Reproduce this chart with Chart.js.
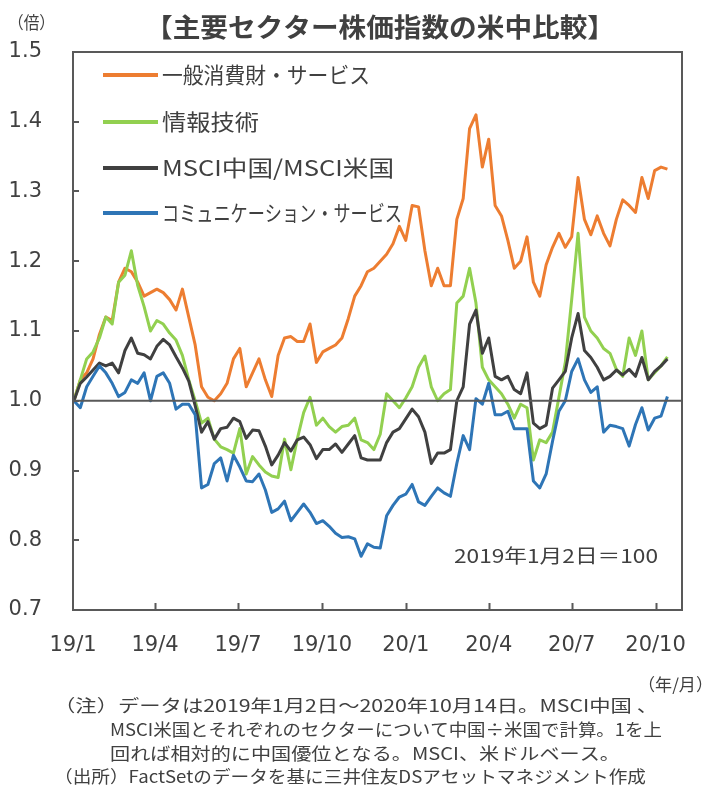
<!DOCTYPE html>
<html lang="ja">
<head>
<meta charset="utf-8">
<title>主要セクター株価指数の米中比較</title>
<script src="https://cdn.jsdelivr.net/npm/chart.js@4.4.1/dist/chart.umd.min.js"></script>
<style>
  html, body { margin: 0; padding: 0; background: #fff; }
  #wrap { width: 713px; height: 788px; }
</style>
</head>
<body>
<div id="wrap"><canvas id="chart" width="713" height="788"></canvas></div>
<script>
// 週次サンプル (2019/1/2 から 7 日おき、最後が 2020/10/14)
const startDate = '2019-01-02';

const consumer = [1.000, 1.030, 1.040, 1.060, 1.095, 1.120, 1.115, 1.170, 1.190, 1.185,
  1.170, 1.150, 1.155, 1.160, 1.155, 1.145, 1.130, 1.160, 1.120, 1.080,
  1.020, 1.005, 1.000, 1.010, 1.025, 1.060, 1.075, 1.020, 1.040, 1.060,
  1.030, 1.006, 1.065, 1.090, 1.092, 1.085, 1.085, 1.110, 1.055, 1.070,
  1.075, 1.080, 1.090, 1.118, 1.150, 1.165, 1.185, 1.190, 1.200, 1.210,
  1.225, 1.250, 1.230, 1.280, 1.278, 1.215, 1.165, 1.190, 1.165, 1.165,
  1.260, 1.290, 1.390, 1.410, 1.335, 1.375, 1.280, 1.265, 1.230, 1.190,
  1.200, 1.235, 1.170, 1.150, 1.195, 1.220, 1.240, 1.220, 1.235, 1.320,
  1.260, 1.238, 1.265, 1.240, 1.222, 1.260, 1.288, 1.280, 1.270, 1.320,
  1.290, 1.330, 1.335, 1.332];

const infoTech = [1.000, 1.030, 1.060, 1.070, 1.090, 1.120, 1.110, 1.170, 1.180, 1.215,
  1.165, 1.135, 1.100, 1.115, 1.110, 1.097, 1.087, 1.065, 1.030, 1.000,
  0.968, 0.975, 0.945, 0.934, 0.930, 0.925, 0.960, 0.895, 0.920, 0.908,
  0.898, 0.892, 0.890, 0.945, 0.901, 0.945, 0.983, 1.005, 0.965, 0.975,
  0.963, 0.955, 0.963, 0.965, 0.975, 0.944, 0.940, 0.930, 0.952, 1.010,
  1.000, 0.990, 1.004, 1.020, 1.048, 1.064, 1.020, 1.000, 1.010, 1.016,
  1.140, 1.150, 1.190, 1.140, 1.048, 1.030, 1.020, 1.010, 0.995, 0.975,
  0.995, 0.990, 0.915, 0.944, 0.940, 0.955, 1.005, 1.055, 1.145, 1.240,
  1.120, 1.100, 1.090, 1.075, 1.068, 1.045, 1.035, 1.090, 1.065, 1.100,
  1.030, 1.040, 1.050, 1.063];

const msciRatio = [1.000, 1.025, 1.034, 1.044, 1.054, 1.050, 1.054, 1.040, 1.072, 1.090,
  1.068, 1.066, 1.060, 1.078, 1.088, 1.080, 1.063, 1.047, 1.028, 0.993,
  0.955, 0.970, 0.945, 0.960, 0.962, 0.975, 0.970, 0.946, 0.958, 0.957,
  0.935, 0.908, 0.922, 0.940, 0.928, 0.944, 0.948, 0.937, 0.917, 0.930,
  0.930, 0.938, 0.926, 0.938, 0.950, 0.918, 0.915, 0.915, 0.915, 0.940,
  0.955, 0.960, 0.974, 0.988, 0.977, 0.955, 0.910, 0.925, 0.925, 0.930,
  1.000, 1.020, 1.110, 1.130, 1.068, 1.090, 1.035, 1.030, 1.035, 1.016,
  1.010, 1.040, 0.968, 0.960, 0.965, 1.018, 1.030, 1.042, 1.090, 1.125,
  1.072, 1.062, 1.048, 1.030, 1.035, 1.044, 1.037, 1.045, 1.035, 1.062,
  1.030, 1.042, 1.050, 1.060];

const commServices = [1.000, 0.990, 1.020, 1.035, 1.050, 1.040, 1.025, 1.006, 1.012, 1.030,
  1.025, 1.040, 1.000, 1.035, 1.040, 1.025, 0.988, 0.995, 0.995, 0.980,
  0.875, 0.880, 0.910, 0.918, 0.885, 0.922, 0.905, 0.885, 0.884, 0.895,
  0.872, 0.840, 0.845, 0.856, 0.828, 0.840, 0.852, 0.840, 0.824, 0.828,
  0.820, 0.810, 0.804, 0.805, 0.802, 0.777, 0.795, 0.790, 0.789, 0.835,
  0.850, 0.862, 0.866, 0.880, 0.855, 0.850, 0.863, 0.875, 0.868, 0.863,
  0.910, 0.950, 0.930, 1.003, 0.995, 1.025, 0.980, 0.980, 0.985, 0.960,
  0.960, 0.960, 0.885, 0.875, 0.895, 0.942, 0.985, 1.000, 1.042, 1.060,
  1.030, 1.012, 1.020, 0.955, 0.965, 0.963, 0.960, 0.935, 0.966, 0.990,
  0.958, 0.975, 0.978, 1.006];

const seriesNames = ['一般消費財・サービス', '情報技術', 'MSCI中国/MSCI米国', 'コミュニケーション・サービス'];
const tickLabels = ['19/1', '19/4', '19/7', '19/10', '20/1', '20/4', '20/7', '20/10'];
const baseline = 1.0;

const COLORS = ['#ED7D31', '#92D050', '#404040', '#2E75B6'];
const TEXT = '#404040';
const AXIS = '#595959';
const JP = '"Noto Sans CJK JP", "Noto Sans", sans-serif';
const NUM = '"DejaVu Sans", Verdana, sans-serif';

// x 軸は 2019/1/1 からの日数
const DAY = 86400000;
const origin = Date.UTC(2019, 0, 1);
const dayOf = (y, m, d) => Math.round((Date.UTC(y, m - 1, d) - origin) / DAY);
const [sy, sm, sd] = startDate.split('-').map(Number);
const firstDay = dayOf(sy, sm, sd);
const xDays = consumer.map((_, i) => firstDay + 7 * i);
const tickDays = tickLabels.map(t => {
    const [yy, mm] = t.split('/').map(Number);
    return dayOf(2000 + yy, mm, 1);
});

const toPoints = arr => arr.map((v, i) => ({ x: xDays[i], y: v }));

// 横幅を合わせて文字を描く
function fitText(ctx, text, left, y, width, font) {
    ctx.save();
    ctx.font = font;
    ctx.textAlign = 'left';
    ctx.textBaseline = 'middle';
    const natural = ctx.measureText(text).width;
    ctx.translate(left, y);
    ctx.scale(width / natural, 1);
    ctx.fillText(text, 0, 0);
    ctx.restore();
}

const decor = {
    id: 'decor',
    afterDatasetsDraw(chart) {
        const { ctx, chartArea: a, scales: { x, y } } = chart;
        ctx.save();
        ctx.strokeStyle = AXIS;

        // 1.0 の基準線
        const yb = y.getPixelForValue(baseline);
        ctx.lineWidth = 1.8;
        ctx.beginPath();
        ctx.moveTo(a.left, yb);
        ctx.lineTo(a.right, yb);
        ctx.stroke();

        // 枠と内向きの目盛り
        ctx.lineWidth = 2;
        ctx.strokeRect(a.left, a.top, a.right - a.left, a.bottom - a.top);
        ctx.beginPath();
        x.ticks.forEach((t, i) => {
            if (i === 0) return;
            const px = Math.round(x.getPixelForValue(t.value)) + 0.5;
            ctx.moveTo(px, a.bottom);
            ctx.lineTo(px, a.bottom - 7);
        });
        y.ticks.forEach(t => {
            const py = Math.round(y.getPixelForValue(t.value));
            ctx.moveTo(a.left, py);
            ctx.lineTo(a.left + 6, py);
        });
        ctx.stroke();
        ctx.restore();
    },
    afterDraw(chart) {
        const { ctx } = chart;
        ctx.save();
        ctx.fillStyle = TEXT;

        fitText(ctx, '【主要セクター株価指数の米中比較】', 145, 27, 470, 'bold 26px ' + JP);
        fitText(ctx, '（倍）', 8, 23, 47, '17px ' + JP);

        // 凡例
        const rows = [75, 122, 168, 213];
        const widths = [208, 97, 232, 240];
        seriesNames.forEach((name, i) => {
            ctx.strokeStyle = COLORS[i];
            ctx.lineWidth = 4;
            ctx.beginPath();
            ctx.moveTo(103, rows[i]);
            ctx.lineTo(158, rows[i]);
            ctx.stroke();
            fitText(ctx, name, 162, rows[i], widths[i], '22px ' + JP);
        });

        fitText(ctx, '2019年1月2日＝100', 454, 556, 204, '19px ' + JP);
        fitText(ctx, '（年/月）', 638, 685, 75, '17px ' + JP);

        const noteFont = '17px ' + JP;
        fitText(ctx, '（注）データは2019年1月2日～2020年10月14日。MSCI中国 、', 54, 706, 604, noteFont);
        fitText(ctx, 'MSCI米国とそれぞれのセクターについて中国÷米国で計算。1を上', 110, 730, 552, noteFont);
        fitText(ctx, '回れば相対的に中国優位となる。MSCI、米ドルベース。', 110, 754, 510, noteFont);
        fitText(ctx, '（出所）FactSetのデータを基に三井住友DSアセットマネジメント作成', 54, 777, 592, noteFont);
        ctx.restore();
    }
};

const allSeries = [consumer, infoTech, msciRatio, commServices];

new Chart(document.getElementById('chart'), {
    type: 'line',
    data: {
        datasets: allSeries.map((arr, i) => ({
            label: seriesNames[i],
            data: toPoints(arr),
            borderColor: COLORS[i],
            backgroundColor: COLORS[i],
            borderWidth: 3,
            pointRadius: 0,
            tension: 0,
            borderJoinStyle: 'round',
            order: 4 - i
        }))
    },
    options: {
        responsive: false,
        animation: false,
        layout: { padding: { top: 52, right: 31, bottom: 0, left: 0 } },
        plugins: {
            legend: { display: false },
            tooltip: { enabled: false }
        },
        scales: {
            x: {
                type: 'linear',
                min: 0,
                max: 668,
                grid: { display: false, drawTicks: false },
                border: { display: false },
                afterFit: s => { s.height = 178; },
                afterBuildTicks: s => { s.ticks = tickDays.map(v => ({ value: v })); },
                ticks: {
                    autoSkip: false,
                    maxRotation: 0,
                    padding: 23,
                    color: TEXT,
                    font: { family: NUM, size: 21 },
                    callback: (v, i) => tickLabels[i]
                }
            },
            y: {
                min: 0.7,
                max: 1.5,
                grid: { display: false, drawTicks: false },
                border: { display: false },
                afterFit: s => { s.width = 73; },
                ticks: {
                    stepSize: 0.1,
                    padding: 31,
                    color: TEXT,
                    font: { family: NUM, size: 21 },
                    callback: v => v.toFixed(1)
                }
            }
        }
    },
    plugins: [decor]
});
</script>
</body>
</html>
